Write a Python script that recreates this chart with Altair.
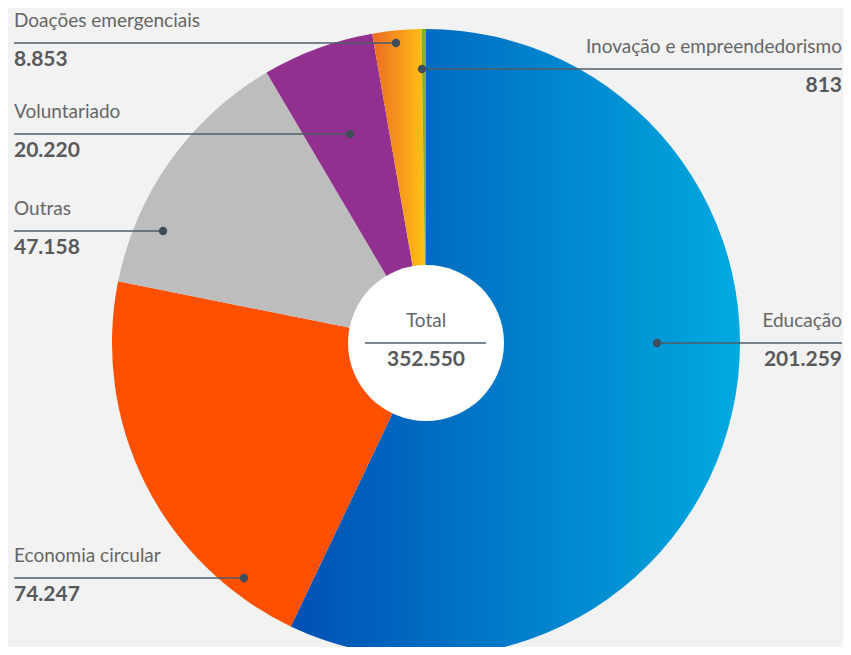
import math
import altair as alt
import pandas as pd

# ---- data ----
categories = ["Educação", "Economia circular", "Outras", "Voluntariado",
              "Doações emergenciais", "Inovação e empreendedorismo"]
values = [201259, 74247, 47158, 20220, 8853, 813]
total_title = "Total"

# ---- styles ----
palette = ["#0077C8", "#FF5000", "#BDBDBD", "#91308E", "#F5901E", "#78B82A"]
edu_grad = {"gradient": "linear", "x1": 0, "x2": 1, "y1": 0, "y2": 0,
            "stops": [{"offset": 0, "color": "#0050B3"}, {"offset": 1, "color": "#00AAE0"}]}
don_grad = {"gradient": "linear", "x1": 0, "x2": 1, "y1": 0, "y2": 0,
            "stops": [{"offset": 0, "color": "#EE6A24"}, {"offset": 1, "color": "#FFC414"}]}

# ---- layout (chart pixels) ----
W, H = 835, 639
OFF = 8
CX, CY, R = 426 - OFF, 343 - OFF, 314
HOLE_D = 156
dot_x = [657, 244, 163, 350, 396, 422]
line_y = [343, 578, 231, 134, 43, 69]
side = ["right", "left", "left", "left", "left", "right"]
LEFT_X, RIGHT_X = 14, 842

def fmt(v):
    return f"{v:,}".replace(",", ".")

df = pd.DataFrame({"cat": categories, "value": values, "order": list(range(len(values)))})

ann = pd.DataFrame({
    "cat": categories,
    "vlabel": [fmt(v) for v in values],
    "dx": [x - OFF for x in dot_x],
    "ly": [y - OFF for y in line_y],
    "side": side,
})
ann["x1"] = [LEFT_X - OFF if s == "left" else d for s, d in zip(side, ann["dx"])]
ann["x2"] = [d if s == "left" else RIGHT_X - OFF for s, d in zip(side, ann["dx"])]
ann["tx"] = [LEFT_X - OFF if s == "left" else RIGHT_X - OFF for s in side]
ann["ny"] = ann["ly"] - 16.5
ann["vy"] = ann["ly"] + 23

tot = pd.DataFrame({
    "t": [total_title], "v": [fmt(sum(values))],
    "x": [CX], "x1": [365 - OFF], "x2": [486 - OFF],
    "ly": [CY], "ny": [CY - 16.5], "vy": [CY + 23],
})

xs = alt.Scale(domain=[0, W], range=[0, W], nice=False, zero=False)
ys = alt.Scale(domain=[0, H], range=[0, H], nice=False, zero=False)

pie = alt.Chart(df).mark_arc(outerRadius=R).encode(
    theta=alt.Theta("value:Q", stack=True),
    order=alt.Order("order:Q"),
    color=alt.Color("cat:N", scale=alt.Scale(domain=categories, range=palette), legend=None,
                    condition=[
                        {"test": "datum.cat === 'Educação'", "value": edu_grad},
                        {"test": "datum.cat === 'Doações emergenciais'", "value": don_grad},
                    ]),
    x=alt.value(CX), y=alt.value(CY),
)

hole = alt.Chart(pd.DataFrame({"a": [1]})).mark_circle(
    color="white", opacity=1, size=HOLE_D * HOLE_D
).encode(x=alt.value(CX), y=alt.value(CY))

LINE_C = "#4E5C69"
NAME_C = "#666666"
VAL_C = "#58595B"
FONT = "Lato"

base = alt.Chart(ann)
lines = base.mark_rule(color=LINE_C, strokeWidth=1.5).encode(
    x=alt.X("x1:Q", scale=xs, axis=None), x2="x2:Q",
    y=alt.Y("ly:Q", scale=ys, axis=None))
dots = base.mark_circle(color="#3F4E5B", opacity=1, size=70).encode(
    x=alt.X("dx:Q", scale=xs, axis=None), y=alt.Y("ly:Q", scale=ys, axis=None))

def texts(s, align):
    b = base.transform_filter(f"datum.side === '{s}'")
    n = b.mark_text(align=align, baseline="alphabetic", font=FONT, fontSize=19, color=NAME_C).encode(
        x=alt.X("tx:Q", scale=xs, axis=None), y=alt.Y("ny:Q", scale=ys, axis=None), text="cat:N")
    v = b.mark_text(align=align, baseline="alphabetic", font=FONT, fontSize=21, fontWeight="bold",
                    color=VAL_C).encode(
        x=alt.X("tx:Q", scale=xs, axis=None), y=alt.Y("vy:Q", scale=ys, axis=None), text="vlabel:N")
    return n + v

tb = alt.Chart(tot)
tline = tb.mark_rule(color=LINE_C, strokeWidth=1.5).encode(
    x=alt.X("x1:Q", scale=xs, axis=None), x2="x2:Q", y=alt.Y("ly:Q", scale=ys, axis=None))
tname = tb.mark_text(align="center", baseline="alphabetic", font=FONT, fontSize=19, color=NAME_C).encode(
    x=alt.X("x:Q", scale=xs, axis=None), y=alt.Y("ny:Q", scale=ys, axis=None), text="t:N")
tval = tb.mark_text(align="center", baseline="alphabetic", font=FONT, fontSize=21, fontWeight="bold",
                    color=VAL_C).encode(
    x=alt.X("x:Q", scale=xs, axis=None), y=alt.Y("vy:Q", scale=ys, axis=None), text="v:N")

chart = alt.layer(
    pie, hole, lines, dots, texts("left", "left"), texts("right", "right"), tline, tname, tval
).properties(
    width=W, height=H, padding=0, autosize=alt.AutoSizeParams(type="none"), background="#F2F2F2"
).configure_view(strokeWidth=0)

chart.save("out.html", embed_options={"renderer": "svg", "actions": False})
